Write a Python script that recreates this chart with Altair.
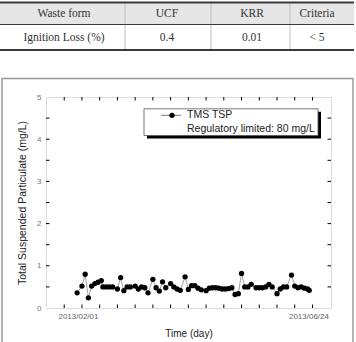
import altair as alt
import pandas as pd

# Ignition loss table above the plot
table_columns = ["Waste form", "UCF", "KRR", "Criteria"]
table_row = ["Ignition Loss (%)", "0.4", "0.01", "< 5"]

# TSP monitoring: days after 2013/02/01 and concentration (mg/L)
days = [-3, 0, 2, 4, 6, 8, 10, 12, 13, 15, 17, 19, 22, 24, 26, 28, 30, 33, 35, 37,
        39, 41, 44, 46, 48, 50, 52, 55, 57, 59, 61, 64, 66, 68, 70, 72, 74, 77, 79, 81,
        83, 85, 87, 89, 91, 93, 95, 97, 99, 101, 103, 105, 108, 110, 112, 114, 116, 118,
        121, 123, 125, 127, 130, 132, 134, 136, 138, 140, 141]
tsp = [0.36, 0.52, 0.80, 0.24, 0.52, 0.58, 0.61, 0.65, 0.50, 0.50, 0.50, 0.50, 0.45,
       0.72, 0.41, 0.50, 0.50, 0.52, 0.45, 0.50, 0.48, 0.36, 0.68, 0.48, 0.40, 0.62,
       0.48, 0.58, 0.50, 0.45, 0.42, 0.74, 0.44, 0.53, 0.53, 0.47, 0.43, 0.41, 0.47,
       0.48, 0.48, 0.47, 0.45, 0.45, 0.46, 0.48, 0.32, 0.34, 0.82, 0.50, 0.50, 0.56,
       0.48, 0.48, 0.48, 0.50, 0.56, 0.50, 0.34, 0.45, 0.50, 0.50, 0.78, 0.52, 0.48,
       0.50, 0.47, 0.45, 0.42]

x_tick_days = list(range(-11, 144, 11))
y_tick_values = [0.5 * i for i in range(1, 10)]
x_label_days = [0, 143]
x_label_text = ["2013/02/01", "2013/06/24"]
y_label_values = [0, 1, 2, 3, 4, 5]
legend_labels = ["TMS TSP", "Regulatory limited: 80 mg/L"]

W, H = 285, 211
SANS = "Liberation Sans"
SERIF = "Liberation Serif"
TICK = 3.5
DOT = 28

label_expr = "''"
for d, t in zip(reversed(x_label_days), reversed(x_label_text)):
    label_expr = f"datum.value == {d} ? '{t}' : ({label_expr})"

x_scale = alt.Scale(domain=[-22.3, 154.5], nice=False, zero=False)
y_scale = alt.Scale(domain=[0, 5], nice=False)
x_axis = alt.Axis(values=x_label_days, labelExpr=label_expr, ticks=False, domain=False,
                  grid=False, labelFont=SANS, labelFontSize=8, labelColor="#666",
                  labelPadding=4, labelOffset=-4, labelFlush=False, title="Time (day)",
                  titleFont=SANS, titleFontSize=10, titleFontWeight="normal",
                  titleColor="#222", titlePadding=8)
y_axis = alt.Axis(values=y_label_values, format="d", ticks=False, domain=False,
                  grid=False, labelFont=SANS, labelFontSize=8, labelColor="#777",
                  labelPadding=5, labelFlush=False,
                  title="Total Suspended Particulate (mg/L)", titleFont=SANS,
                  titleFontSize=10.5, titleFontWeight="normal", titleColor="#222",
                  titlePadding=9)


def X():
    return alt.X("day:Q", scale=x_scale, axis=x_axis, title="Time (day)")


def Y():
    return alt.Y("value:Q", scale=y_scale, axis=y_axis,
                 title="Total Suspended Particulate (mg/L)")


one = pd.DataFrame({"k": [0]})
series = pd.DataFrame({"day": days, "value": tsp})
xt = pd.DataFrame({"day": x_tick_days})
yt = pd.DataFrame({"value": y_tick_values})

layers = []

# outer frame around the figure
layers.append(alt.Chart(one).mark_rect(fill=None, stroke="#9a9a9a", strokeWidth=1.5).encode(
    x=alt.value(-44), x2=alt.value(307), y=alt.value(-18.5), y2=alt.value(260)))

# table: header band, rules, column separators, cells
layers.append(alt.Chart(one).mark_rect(fill="#e6e6e6").encode(
    x=alt.value(-46), x2=alt.value(308), y=alt.value(-94.5), y2=alt.value(-72.5)))
for sep in [79, 165, 244]:
    layers.append(alt.Chart(one).mark_rule(color="#b0b0b0", strokeWidth=0.8).encode(
        x=alt.value(sep), y=alt.value(-94.5), y2=alt.value(-47)))
for yy, sw in [(-94.5, 1.8), (-72.5, 1.0), (-47, 1.8)]:
    layers.append(alt.Chart(one).mark_rule(color="#3a3a3a", strokeWidth=sw).encode(
        x=alt.value(-46), x2=alt.value(308), y=alt.value(yy)))
col_x = [18, 121, 206, 271]
for row_y, cells in [(-83, table_columns), (-59.5, table_row)]:
    for cx, txt in zip(col_x, cells):
        layers.append(alt.Chart(one).mark_text(
            text=txt, font=SERIF, fontSize=11.5, color="#333", align="center",
            baseline="middle").encode(x=alt.value(cx), y=alt.value(row_y)))

# inward ticks on all four sides
layers.append(alt.Chart(xt).mark_rule(color="black", strokeWidth=1).encode(
    x=X(), y=alt.value(H), y2=alt.value(H - TICK)))
layers.append(alt.Chart(xt).mark_rule(color="black", strokeWidth=1).encode(
    x=X(), y=alt.value(0), y2=alt.value(TICK)))
layers.append(alt.Chart(yt).mark_rule(color="black", strokeWidth=1).encode(
    y=Y(), x=alt.value(0), x2=alt.value(TICK)))
layers.append(alt.Chart(yt).mark_rule(color="black", strokeWidth=1).encode(
    y=Y(), x=alt.value(W), x2=alt.value(W - TICK)))

# the TSP series
layers.append(alt.Chart(series).mark_line(color="#8a8a8a", strokeWidth=0.8).encode(
    x=X(), y=Y()))
layers.append(alt.Chart(series).mark_point(filled=True, shape="circle", color="black",
                                           size=DOT, opacity=1).encode(x=X(), y=Y()))

# legend box with drop shadow
layers.append(alt.Chart(one).mark_rect(fill="black").encode(
    x=alt.value(101), x2=alt.value(275), y=alt.value(14.8), y2=alt.value(41.5)))
layers.append(alt.Chart(one).mark_rect(fill="white", stroke="#555", strokeWidth=0.8).encode(
    x=alt.value(98), x2=alt.value(272), y=alt.value(11.8), y2=alt.value(38.5)))
layers.append(alt.Chart(one).mark_rule(color="#555", strokeWidth=0.8).encode(
    x=alt.value(115), x2=alt.value(135), y=alt.value(18.3)))
layers.append(alt.Chart(one).mark_point(filled=True, shape="circle", color="black",
                                        size=DOT, opacity=1).encode(
    x=alt.value(126), y=alt.value(18.3)))
for ly, txt in zip([18.3, 31.8], legend_labels):
    layers.append(alt.Chart(one).mark_text(
        text=txt, font=SANS, fontSize=10.5, color="#222", align="left",
        baseline="middle").encode(x=alt.value(141), y=alt.value(ly)))

chart = alt.layer(*layers).properties(
    width=W, height=H,
    padding={"left": 46, "top": 97, "right": 25, "bottom": 34},
    autosize=alt.AutoSizeParams(type="none"),
).configure_view(stroke="black", strokeWidth=1).configure(background="white")

chart.save("out.html", embed_options={"renderer": "svg", "actions": False})
